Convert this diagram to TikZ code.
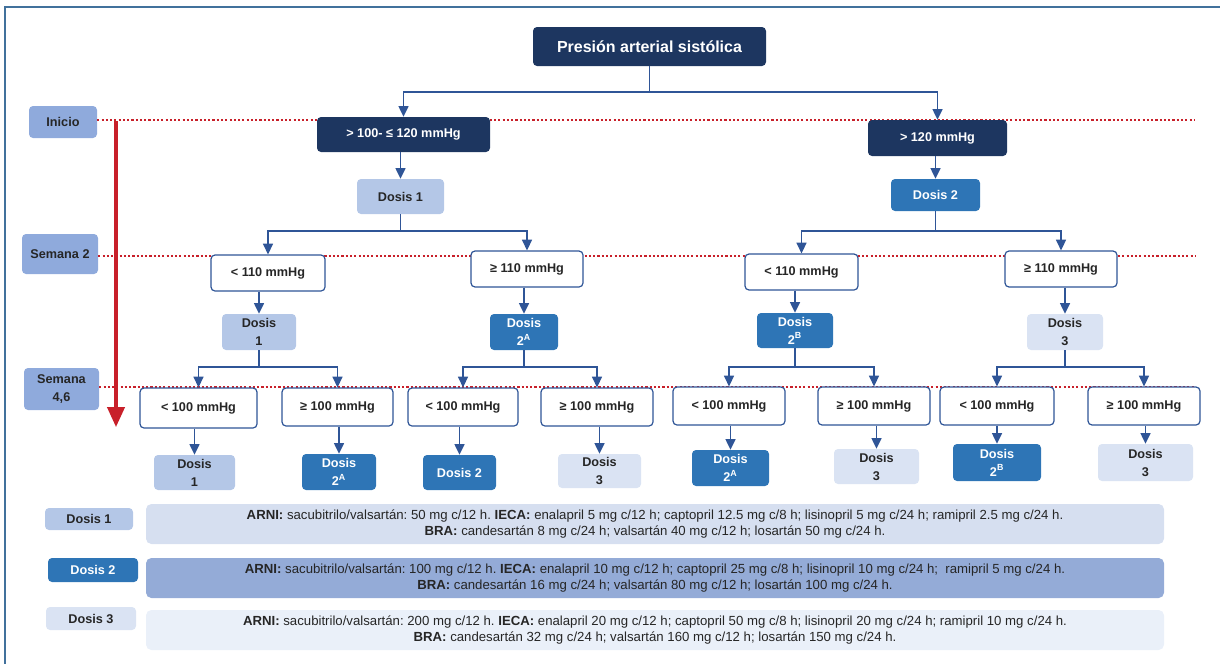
\documentclass[tikz,border=0pt]{standalone}
\usepackage{fontspec}
\setmainfont{Liberation Sans}
\usetikzlibrary{arrows.meta}
\definecolor{navy}{HTML}{1D3660}
\definecolor{midblue}{HTML}{2E75B6}
\definecolor{lightblue}{HTML}{B4C7E7}
\definecolor{vlightblue}{HTML}{DAE3F3}
\definecolor{labelblue}{HTML}{8FAADC}
\definecolor{rowone}{HTML}{D6DFF0}
\definecolor{rowtwo}{HTML}{94ABD7}
\definecolor{rowthree}{HTML}{EAF0F9}
\definecolor{conblue}{HTML}{2F5597}
\definecolor{darktext}{HTML}{262626}
\definecolor{redline}{HTML}{C8202A}
\definecolor{framecol}{HTML}{41719C}
\frenchspacing
\begin{document}
\begin{tikzpicture}[x=0.75pt,y=-0.75pt,
  wh/.style 2 args={minimum width=#1*0.75pt, minimum height=#2*0.75pt},
  base/.style={rounded corners=3pt, inner sep=0pt, align=center,
    font=\fontsize{9.5}{13.5}\selectfont\bfseries},
  navybox/.style={base, fill=navy, text=white},
  midbox/.style={base, fill=midblue, text=white},
  lightbox/.style={base, fill=lightblue, text=darktext},
  vlightbox/.style={base, fill=vlightblue, text=darktext},
  labelbox/.style={base, fill=labelblue, text=darktext},
  whitebox/.style={base, fill=white, draw=conblue, line width=0.9pt, text=darktext},
  rowbox/.style={rounded corners=4pt, inner sep=0pt, align=center, text=darktext,
    font=\fontsize{9.9}{12}\selectfont},
  line/.style={draw=conblue, line width=1.1pt},
  arr/.style={line, -{Triangle[width=7.5pt,length=8pt]}},
  dotline/.style={draw=redline, line width=1.6pt, dash pattern=on 1.6pt off 1.6pt},
]
\useasboundingbox (0,0) rectangle (1220,664);
% frame
\coordinate (fr1) at (1220,7);
\coordinate (fr2) at (5,7);
\coordinate (fr3) at (5,664);
\draw[framecol, line width=1.2pt] (fr1) -- (fr2) -- (fr3);

% period labels
\node[labelbox, wh={68}{32}] (ini) at (63,122) {Inicio};
\node[labelbox, wh={76}{40}] (sem2) at (60,254) {Semana 2};
\node[labelbox, wh={75}{42}] (sem4) at (61.5,389) {Semana\\4,6};
\coordinate (e1) at (1195,120);
\coordinate (e2) at (1195,256);
\coordinate (e3) at (1195,387);
\draw[dotline] (ini.east |- e1) -- (e1);
\draw[dotline] (sem2.east |- e2) -- (e2);
\draw[dotline] (sem4.east |- e3) -- (e3);
\coordinate (rs) at (116,121);
\coordinate (re) at (116,427);
\draw[redline, line width=2.4pt, -{Triangle[width=13pt,length=15pt]}] (rs) -- (re);

% top
\node[navybox, wh={233}{39}, font=\fontsize{12}{14}\selectfont\bfseries] (title) at (649.5,46.5) {Presión arterial sistólica};
\node[navybox, wh={173}{35}] (B1) at (403.5,134.5) {> 100- ≤ 120 mmHg};
\node[navybox, wh={139}{36}] (B2) at (937.5,138) {> 120 mmHg};
\node[lightbox, wh={87}{35}] (D1) at (400.5,196.5) {Dosis 1};
\node[midbox, wh={89}{32}] (D2) at (935.5,195) {Dosis 2};

% level 2
\node[whitebox, wh={114}{36}] (L2a) at (268,273) {< 110 mmHg};
\node[whitebox, wh={112}{36}] (L2b) at (527,269) {≥ 110 mmHg};
\node[whitebox, wh={113}{36}] (L2c) at (801.5,272) {< 110 mmHg};
\node[whitebox, wh={112}{36}] (L2d) at (1061,269) {≥ 110 mmHg};

\node[lightbox, wh={74}{36}] (E1) at (259,332) {Dosis\\1};
\node[midbox, wh={68}{36}] (E2) at (524,332) {Dosis\\2\textsuperscript{A}};
\node[midbox, wh={76}{35}] (E3) at (795,330.5) {Dosis\\2\textsuperscript{B}};
\node[vlightbox, wh={76}{36}] (E4) at (1065,332) {Dosis\\3};

% level 3
\node[whitebox, wh={117}{40}] (F1) at (198.5,408) {< 100 mmHg};
\node[whitebox, wh={111}{38}] (F2) at (337.5,407) {≥ 100 mmHg};
\node[whitebox, wh={110}{38}] (F3) at (463,407) {< 100 mmHg};
\node[whitebox, wh={112}{38}] (F4) at (597,407) {≥ 100 mmHg};
\node[whitebox, wh={112}{38}] (F5) at (729,406) {< 100 mmHg};
\node[whitebox, wh={112}{38}] (F6) at (874,406) {≥ 100 mmHg};
\node[whitebox, wh={114}{38}] (F7) at (997,406) {< 100 mmHg};
\node[whitebox, wh={112}{38}] (F8) at (1144,406) {≥ 100 mmHg};

% level 4
\node[lightbox, wh={81}{35}] (G1) at (194.5,472.5) {Dosis\\1};
\node[midbox, wh={74}{36}] (G2) at (339,472) {Dosis\\2\textsuperscript{A}};
\node[midbox, wh={73}{35}] (G3) at (459.5,472.5) {Dosis 2};
\node[vlightbox, wh={83}{34}] (G4) at (599.5,471) {Dosis\\3};
\node[midbox, wh={77}{36}] (G5) at (730.5,468) {Dosis\\2\textsuperscript{A}};
\node[vlightbox, wh={85}{35}] (G6) at (876.5,466.5) {Dosis\\3};
\node[midbox, wh={88}{37}] (G7) at (997,462.5) {Dosis\\2\textsuperscript{B}};
\node[vlightbox, wh={95}{37}] (G8) at (1145.5,462.5) {Dosis\\3};

% connectors
\coordinate (y0) at (0,92);
\coordinate (y1) at (0,231);
\coordinate (y2) at (0,367);
\draw[line] (title.south) -- (title.south |- y0) coordinate (j0);
\draw[arr] (j0) -| (B1.north);
\draw[arr] (j0) -| (B2.north);
\draw[arr] (B1.south -| D1.north) -- (D1.north);
\draw[arr] (B2.south -| D2.north) -- (D2.north);

\draw[line] (D1.south) -- (D1.south |- y1) coordinate (j1);
\draw[arr] (j1) -| (L2a.north);
\draw[arr] (j1) -| (L2b.north);
\draw[line] (D2.south) -- (D2.south |- y1) coordinate (j2);
\draw[arr] (j2) -| (L2c.north);
\draw[arr] (j2) -| (L2d.north);

\draw[arr] (L2a.south -| E1.north) -- (E1.north);
\draw[arr] (L2b.south -| E2.north) -- (E2.north);
\draw[arr] (L2c.south -| E3.north) -- (E3.north);
\draw[arr] (L2d.south -| E4.north) -- (E4.north);

\draw[line] (E1.south) -- (E1.south |- y2) coordinate (k1);
\draw[arr] (k1) -| (F1.north);
\draw[arr] (k1) -| (F2.north);
\draw[line] (E2.south) -- (E2.south |- y2) coordinate (k2);
\draw[arr] (k2) -| (F3.north);
\draw[arr] (k2) -| (F4.north);
\draw[line] (E3.south) -- (E3.south |- y2) coordinate (k3);
\draw[arr] (k3) -| (F5.north);
\draw[arr] (k3) -| (F6.north);
\draw[line] (E4.south) -- (E4.south |- y2) coordinate (k4);
\draw[arr] (k4) -| (F7.north);
\draw[arr] (k4) -| (F8.north);

\draw[arr] (F1.south -| G1.north) -- (G1.north);
\draw[arr] (F2.south -| G2.north) -- (G2.north);
\draw[arr] (F3.south -| G3.north) -- (G3.north);
\draw[arr] (F4.south -| G4.north) -- (G4.north);
\draw[arr] (F5.south -| G5.north) -- (G5.north);
\draw[arr] (F6.south -| G6.north) -- (G6.north);
\draw[arr] (F7.south -| G7.north) -- (G7.north);
\draw[arr] (F8.south -| G8.north) -- (G8.north);

% legend
\node[lightbox, wh={88}{22}] (K1) at (89,519) {Dosis 1};
\node[midbox, wh={90}{24}] (K2) at (93,570) {Dosis 2};
\node[vlightbox, wh={90}{23}] (K3) at (91,618.5) {Dosis 3};
\node[rowbox, fill=rowone, wh={1018}{40}] (R1) at (655,524) {\textbf{ARNI:} sacubitrilo/valsartán: 50 mg c/12 h. \textbf{IECA:} enalapril 5 mg c/12 h; captopril 12.5 mg c/8 h; lisinopril 5 mg c/24 h; ramipril 2.5 mg c/24 h.\\\textbf{BRA:} candesartán 8 mg c/24 h; valsartán 40 mg c/12 h; losartán 50 mg c/24 h.};
\node[rowbox, fill=rowtwo, wh={1018}{40}] (R2) at (655,578) {\textbf{ARNI:} sacubitrilo/valsartán: 100 mg c/12 h. \textbf{IECA:} enalapril 10 mg c/12 h; captopril 25 mg c/8 h; lisinopril 10 mg c/24 h;\ \ ramipril 5 mg c/24 h.\\\textbf{BRA:} candesartán 16 mg c/24 h; valsartán 80 mg c/12 h; losartán 100 mg c/24 h.};
\node[rowbox, fill=rowthree, wh={1018}{40}] (R3) at (655,630) {\textbf{ARNI:} sacubitrilo/valsartán: 200 mg c/12 h. \textbf{IECA:} enalapril 20 mg c/12 h; captopril 50 mg c/8 h; lisinopril 20 mg c/24 h; ramipril 10 mg c/24 h.\\\textbf{BRA:} candesartán 32 mg c/24 h; valsartán 160 mg c/12 h; losartán 150 mg c/24 h.};
\end{tikzpicture}
\end{document}
